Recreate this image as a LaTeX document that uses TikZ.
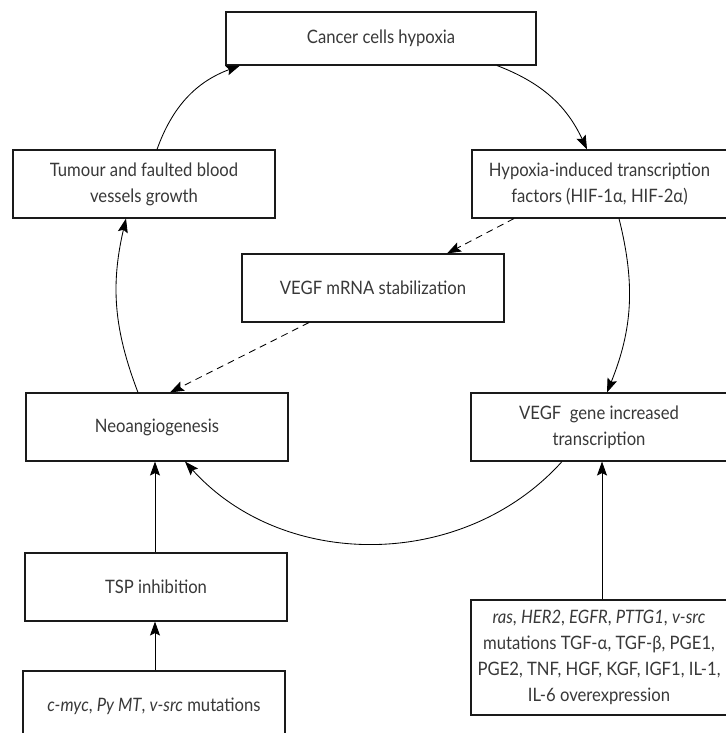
\documentclass[tikz,border=0pt]{standalone}
\usepackage{fontspec}
\setmainfont{Lato}[FakeStretch=0.9]
\usetikzlibrary{arrows.meta}
\definecolor{txt}{HTML}{383838}
\definecolor{edge}{HTML}{1a1a1a}
\tikzset{
  box/.style={draw=edge, line width=1.1pt, inner sep=0pt, align=center, text=txt,
    font=\fontsize{18.5}{26}\selectfont},
  conn/.style={draw=black, line width=0.85pt, -{Stealth[length=14pt,width=10pt,inset=2.5pt]}},
  dconn/.style={conn, dash pattern=on 7pt off 5pt}
}
\begin{document}
\begin{tikzpicture}[x=1pt,y=-1pt]
\useasboundingbox (0,0) rectangle (725,733);
\node[box, minimum width=310pt, minimum height=53pt] (cancer) at (381,38.5) {Cancer cells hypoxia};
\node[box, minimum width=262pt, minimum height=68pt] (tumour) at (144,184) {Tumour and faulted blood\\vessels growth};
\node[box, minimum width=255pt, minimum height=68pt] (hif) at (599.5,184) {Hypoxia-induced transcription\\factors (HIF-1α, HIF-2α)};
\node[box, minimum width=262pt, minimum height=68pt] (mrna) at (373,288) {VEGF mRNA stabilization};
\node[box, minimum width=262pt, minimum height=68pt] (neo) at (157,427) {Neoangiogenesis};
\node[box, minimum width=256pt, minimum height=68pt] (gene) at (599,427) {VEGF~ gene increased\\transcription};
\node[box, minimum width=262pt, minimum height=68pt] (tsp) at (156,587) {TSP inhibition};
\node[box, minimum width=262pt, minimum height=70pt] (cmyc) at (154,706) {\textit{c-myc}, \textit{Py MT}, \textit{v-src} mutations};
\node[box, minimum width=256pt, minimum height=115pt] (ras) at (599,657.5) {\textit{ras}, \textit{HER2}, \textit{EGFR}, \textit{PTTG1}, \textit{v-src}\\mutations TGF-α, TGF-β, PGE1,\\PGE2, TNF, HGF, KGF, IGF1, IL-1,\\IL-6 overexpression};

\draw[conn] ([xshift=13pt]tumour.north) to[bend left=25] ([xshift=-141pt]cancer.south);
\draw[conn] ([xshift=116pt]cancer.south) to[bend left=22] ([xshift=-12.5pt]hif.north);
\draw[conn] ([xshift=19.5pt]hif.south) to[bend left=18] ([xshift=8pt]gene.north);
\draw[conn] ([xshift=-19pt]neo.north) to[bend left=17] ([xshift=-18pt]tumour.south);
\draw[conn] ([xshift=-37pt]gene.south) to[bend left=48] ([xshift=28pt]neo.south);
\draw[dconn] ([xshift=-85.5pt]hif.south) -- ([xshift=74pt]mrna.north);
\draw[dconn] ([xshift=-64pt]mrna.south) -- ([xshift=13pt]neo.north);
\draw[conn] ([xshift=-1pt]tsp.north) -- ([xshift=-1pt]tsp.north |- neo.south);
\draw[conn] ([xshift=1pt]cmyc.north) -- ([xshift=1pt]cmyc.north |- tsp.south);
\draw[conn] ([xshift=3pt]ras.north) -- ([xshift=3pt]ras.north |- gene.south);
\end{tikzpicture}
\end{document}
